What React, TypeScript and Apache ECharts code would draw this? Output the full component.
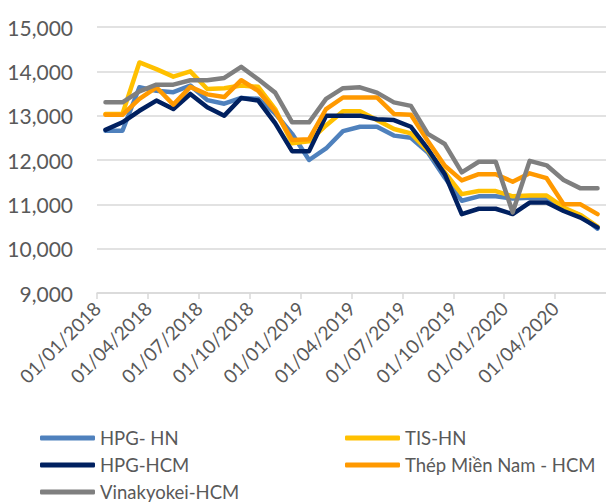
import React, { useEffect, useRef } from "react";
import * as echarts from "echarts";

const months = [
  "2018-01", "2018-02", "2018-03", "2018-04", "2018-05", "2018-06",
  "2018-07", "2018-08", "2018-09", "2018-10", "2018-11", "2018-12",
  "2019-01", "2019-02", "2019-03", "2019-04", "2019-05", "2019-06",
  "2019-07", "2019-08", "2019-09", "2019-10", "2019-11", "2019-12",
  "2020-01", "2020-02", "2020-03", "2020-04", "2020-05", "2020-06",
];

const hpgHN = [
  12660, 12660, 13640, 13560, 13530, 13680, 13350, 13270, 13400, 13380,
  13050, 12590, 12000, 12260, 12650, 12750, 12750, 12550, 12500, 12170,
  11600, 11080, 11180, 11180, 11130, 11150, 11150, 10900, 10750, 10450,
];
const tisHN = [
  13040, 13040, 14200, 14050, 13880, 14000, 13600, 13620, 13680, 13650,
  13150, 12380, 12420, 12780, 13100, 13100, 12900, 12700, 12600, 12210,
  11720, 11230, 11300, 11300, 11180, 11200, 11200, 10930, 10760, 10500,
];
const hpgHCM = [
  12680, 12850, 13110, 13340, 13150, 13490, 13190, 13000, 13400, 13340,
  12830, 12200, 12200, 13000, 13000, 13000, 12920, 12900, 12750, 12250,
  11680, 10780, 10900, 10900, 10780, 11040, 11040, 10850, 10700, 10480,
];
const thepMienNam = [
  13020, 13020, 13380, 13640, 13250, 13650, 13480, 13420, 13800, 13560,
  13100, 12450, 12470, 13150, 13410, 13410, 13410, 13040, 13020, 12430,
  11870, 11540, 11680, 11680, 11510, 11700, 11590, 11000, 11000, 10780,
];
const vinakyokei = [
  13300, 13300, 13550, 13700, 13700, 13800, 13800, 13850, 14100, 13820,
  13520, 12850, 12850, 13380, 13620, 13640, 13520, 13300, 13220, 12590,
  12360, 11720, 11960, 11960, 10820, 11980, 11880, 11550, 11360, 11360,
];

const seriesNames = ["HPG- HN", "TIS-HN", "HPG-HCM", "Thép Miền Nam - HCM", "Vinakyokei-HCM"];
const seriesValues = [hpgHN, tisHN, hpgHCM, thepMienNam, vinakyokei];
const seriesColors = ["#4F81BD", "#FFC000", "#002060", "#FF9900", "#7F7F7F"];

const yTicks = { min: 9000, max: 15000, step: 1000 };
const xStartYear = 2018;
const xMonthsSpan = 30;
const xStepMonths = 3;

const FONT = "Lato, 'Liberation Sans', sans-serif";
const TEXT = "#595959";

function monthIndex(m: string): number {
  const [y, mo] = m.split("-").map(Number);
  return (y - xStartYear) * 12 + (mo - 1);
}

export default function App() {
  const ref = useRef<HTMLDivElement>(null);
  useEffect(() => {
    if (!ref.current) return;
    const chart = echarts.init(ref.current, undefined, { renderer: "svg" });
    const legendPos = [
      { left: 40, top: 428 },
      { left: 345, top: 428 },
      { left: 40, top: 455 },
      { left: 345, top: 455 },
      { left: 40, top: 482 },
    ];
    chart.setOption({
      animation: false,
      backgroundColor: "#ffffff",
      grid: { left: 97, top: 27, width: 510, height: 266, containLabel: false },
      xAxis: {
        type: "value",
        min: 0,
        max: xMonthsSpan,
        interval: xStepMonths,
        axisLine: { show: true, lineStyle: { color: "#D9D9D9", width: 1.5 } },
        axisTick: { show: true, length: 6, lineStyle: { color: "#D9D9D9", width: 1.5 } },
        splitLine: { show: false },
        axisLabel: {
          rotate: 45,
          showMaxLabel: false,
          margin: 12,
          color: TEXT,
          fontFamily: FONT,
          fontSize: 19,
          formatter: (v: number) => {
            const y = xStartYear + Math.floor(v / 12);
            const m = (v % 12) + 1;
            return `01/${m < 10 ? "0" + m : m}/${y}`;
          },
        },
      },
      yAxis: {
        type: "value",
        min: yTicks.min,
        max: yTicks.max,
        interval: yTicks.step,
        axisLine: { show: false },
        axisTick: { show: false },
        splitLine: { lineStyle: { color: "#D9D9D9", width: 1.5 } },
        axisLabel: {
          margin: 24,
          color: TEXT,
          fontFamily: FONT,
          fontSize: 21,
          formatter: (v: number) => v.toLocaleString("en-US"),
        },
      },
      legend: seriesNames.map((name, i) => ({
        data: [name],
        left: legendPos[i].left,
        top: legendPos[i].top,
        icon: "roundRect",
        itemWidth: 55,
        itemHeight: 5,
        padding: 0,
        textStyle: { color: TEXT, fontFamily: FONT, fontSize: 18.5, lineHeight: 20 },
      })),
      series: seriesNames.map((name, i) => ({
        name,
        type: "line",
        symbol: "none",
        color: seriesColors[i],
        lineStyle: { color: seriesColors[i], width: 4.5, join: "round", cap: "round" },
        data: months.map((m, j) => [monthIndex(m) + 0.5, seriesValues[i][j]]),
      })),
    });
    return () => chart.dispose();
  }, []);
  return (
    <div
      ref={ref}
      style={{ position: "absolute", left: 0, top: 0, width: 606, height: 502 }}
    />
  );
}
